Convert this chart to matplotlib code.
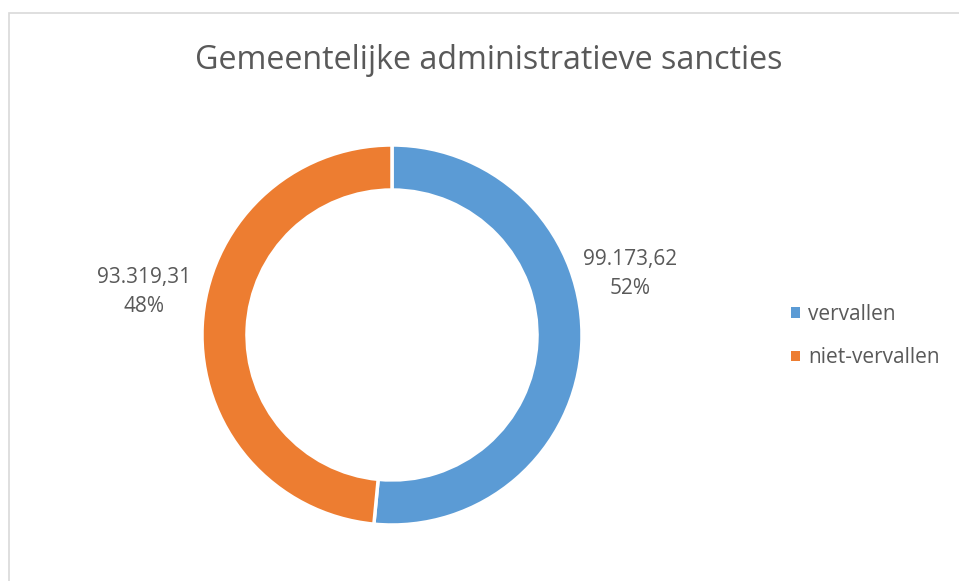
import matplotlib.pyplot as plt
from matplotlib.patches import Patch, Rectangle

# chart data
labels = ['vervallen', 'niet-vervallen']
values = [99173.62, 93319.31]
value_text = ['99.173,62', '93.319,31']
colors = ['#5B9BD5', '#ED7D31']
title = 'Gemeentelijke administratieve sancties'

txt_color = '#595959'
plt.rcParams['font.family'] = ['Open Sans', 'DejaVu Sans']

W, H = 959, 581
fig = plt.figure(figsize=(W / 100, H / 100), dpi=100)
ax = fig.add_axes([0, 0, 1, 1])

# chart border (only top/left visible in the crop)
ax.add_patch(Rectangle((9, -10), 960, H - 13 + 10, fill=False,
                       edgecolor='#D9D9D9', linewidth=1.2))

# donut
wedges, _ = ax.pie(values, colors=colors, startangle=90, counterclock=False,
                   radius=190, center=(392, H - 335), frame=True,
                   wedgeprops=dict(width=45, edgecolor='white', linewidth=2.5))
ax.set_xlim(0, W)
ax.set_ylim(0, H)
ax.set_aspect('equal')
ax.axis('off')

total = sum(values)
pct = [round(v / total * 100) for v in values]
ax.text(630, H - 274, f'{value_text[0]}\n{pct[0]}%', ha='center', va='center',
        fontsize=15, color=txt_color, linespacing=1.55, multialignment='center')
ax.text(144, H - 292, f'{value_text[1]}\n{pct[1]}%', ha='center', va='center',
        fontsize=15, color=txt_color, linespacing=1.55, multialignment='center')

ax.text(488.5, H - 69, title, ha='center', va='baseline', fontsize=23.2,
        color=txt_color)

handles = [Patch(facecolor=c, edgecolor='none') for c in colors]
ax.legend(handles, labels, loc='center left',
          bbox_to_anchor=(791 / W, 1 - 336 / H),
          frameon=False, fontsize=15, labelcolor=txt_color,
          borderaxespad=0, borderpad=0,
          handlelength=0.43, handleheight=0.43, handletextpad=0.4,
          labelspacing=1.1)

fig.savefig('out.png', dpi=100)
